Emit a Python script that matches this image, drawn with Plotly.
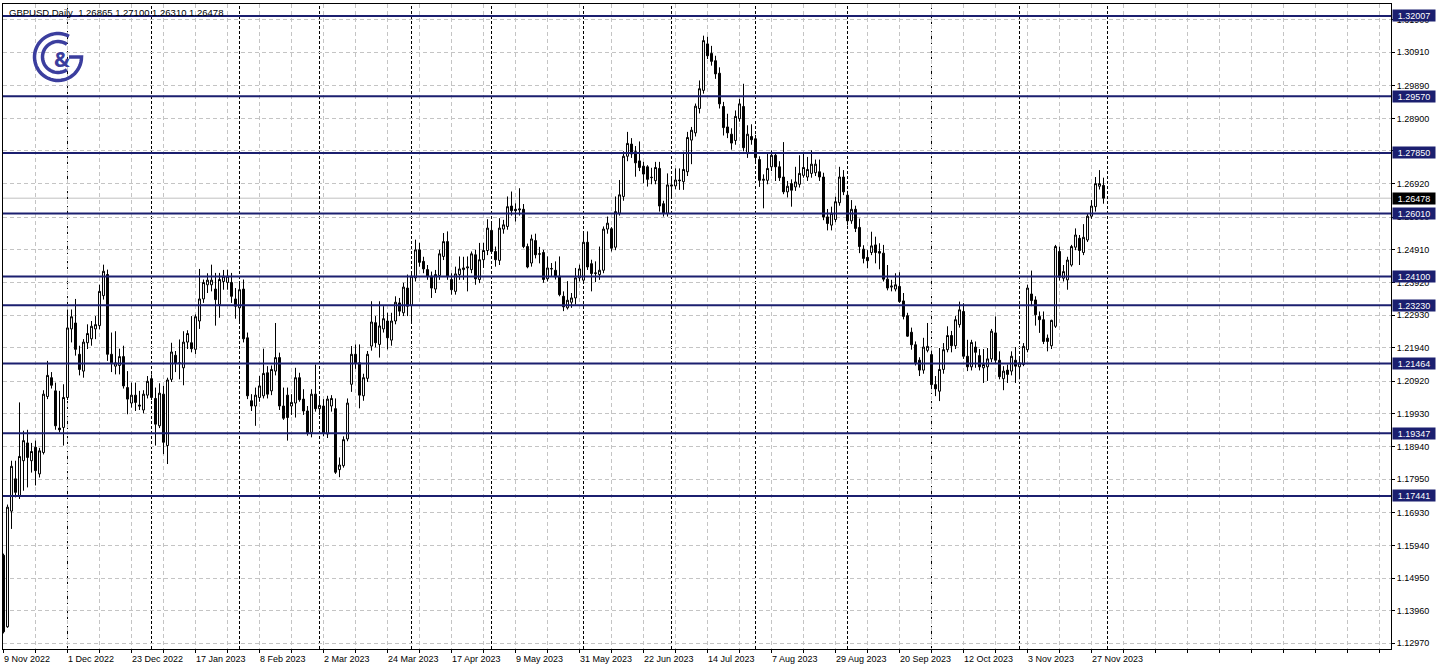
import numpy as np
import plotly.graph_objects as go

# ---------------- data ----------------
bar_open = [
    1.1564, 1.1347, 1.1698, 1.1796, 1.1743, 1.1851, 1.1905, 1.1851, 1.1892, 1.1811,
    1.1876, 1.2046, 1.2103, 1.2063, 1.1950, 1.1952, 1.2043, 1.2251, 1.2269, 1.2174,
    1.2123, 1.2209, 1.2221, 1.2251, 1.2261, 1.2352, 1.2416, 1.2174, 1.2138, 1.2140,
    1.2167, 1.2073, 1.2026, 1.2050, 1.2020, 1.2005, 1.2050, 1.2100, 1.2040, 1.1957,
    1.2053, 1.1897, 1.2098, 1.2171, 1.2146, 1.2133, 1.2211, 1.2209, 1.2189, 1.2275,
    1.2342, 1.2385, 1.2385, 1.2372, 1.2325, 1.2395, 1.2392, 1.2392, 1.2342, 1.2315,
    1.2372, 1.2224, 1.2033, 1.2017, 1.2043, 1.2048, 1.2118, 1.2063, 1.2123, 1.2164,
    1.2017, 1.2050, 1.2017, 1.2026, 1.2103, 1.2038, 1.2002, 1.1937, 1.2053, 1.2009,
    1.2017, 1.1932, 1.2017, 1.2009, 1.1824, 1.1836, 1.1917, 1.2083, 1.2174, 1.2148,
    1.2048, 1.2101, 1.2199, 1.2270, 1.2204, 1.2251, 1.2275, 1.2217, 1.2275, 1.2330,
    1.2300, 1.2375, 1.2322, 1.2406, 1.2491, 1.2456, 1.2431, 1.2411, 1.2372, 1.2413,
    1.2471, 1.2516, 1.2401, 1.2365, 1.2416, 1.2431, 1.2436, 1.2431, 1.2476, 1.2401,
    1.2461, 1.2489, 1.2550, 1.2486, 1.2459, 1.2554, 1.2562, 1.2624, 1.2614, 1.2612,
    1.2614, 1.2501, 1.2451, 1.2519, 1.2479, 1.2483, 1.2403, 1.2433, 1.2429, 1.2411,
    1.2350, 1.2315, 1.2332, 1.2345, 1.2406, 1.2399, 1.2514, 1.2449, 1.2419, 1.2416,
    1.2429, 1.2554, 1.2555, 1.2499, 1.2602, 1.2653, 1.2775, 1.2812, 1.2789, 1.2761,
    1.2745, 1.2743, 1.2710, 1.2701, 1.2738, 1.2631, 1.2602, 1.2688, 1.2685, 1.2703,
    1.2698, 1.2728, 1.2824, 1.2846, 1.2920, 1.2975, 1.3116, 1.3087, 1.3065, 1.3027,
    1.2926, 1.2864, 1.2842, 1.2823, 1.2889, 1.2926, 1.2783, 1.2835, 1.2828, 1.2765,
    1.2702, 1.2702, 1.2743, 1.2778, 1.2743, 1.2712, 1.2667, 1.2692, 1.2682, 1.2690,
    1.2717, 1.2712, 1.2723, 1.2725, 1.2728, 1.2712, 1.2591, 1.2566, 1.2583, 1.2634,
    1.2712, 1.2657, 1.2579, 1.2614, 1.2559, 1.2493, 1.2468, 1.2483, 1.2506, 1.2486,
    1.2481, 1.2402, 1.2378, 1.2372, 1.2380, 1.2336, 1.2291, 1.2241, 1.2203, 1.2156,
    1.2126, 1.2186, 1.2173, 1.2082, 1.2062, 1.2128, 1.2188, 1.2231, 1.2200, 1.2264,
    1.2304, 1.2168, 1.2136, 1.2196, 1.2170, 1.2133, 1.2136, 1.2160, 1.2239, 1.2156,
    1.2100, 1.2126, 1.2123, 1.2156, 1.2136, 1.2143, 1.2188, 1.2357, 1.2339, 1.2289,
    1.2279, 1.2223, 1.2200, 1.2259, 1.2486, 1.2405, 1.2400, 1.2445, 1.2499, 1.2526,
    1.2483, 1.2521, 1.2593, 1.2622, 1.2684, 1.26865,
]
bar_high = [
    1.1569, 1.1718, 1.1851, 1.1851, 1.2028, 1.1942, 1.1945, 1.1905, 1.1912, 1.1890,
    1.2065, 1.2154, 1.2120, 1.2088, 1.2063, 1.2083, 1.2310, 1.2310, 1.2342, 1.2200,
    1.2220, 1.2265, 1.2275, 1.2290, 1.2385, 1.2446, 1.2431, 1.2240, 1.2244, 1.2191,
    1.2200, 1.2123, 1.2088, 1.2088, 1.2063, 1.2065, 1.2108, 1.2113, 1.2073, 1.2086,
    1.2078, 1.2103, 1.2209, 1.2184, 1.2219, 1.2244, 1.2247, 1.2290, 1.2295, 1.2433,
    1.2401, 1.2420, 1.2446, 1.2421, 1.2421, 1.2430, 1.2431, 1.2421, 1.2375, 1.2395,
    1.2401, 1.2240, 1.2053, 1.2073, 1.2108, 1.2191, 1.2138, 1.2140, 1.2269, 1.2179,
    1.2073, 1.2073, 1.2053, 1.2133, 1.2118, 1.2068, 1.2017, 1.2068, 1.2143, 1.2040,
    1.2038, 1.2048, 1.2050, 1.2040, 1.1861, 1.1925, 1.2040, 1.2199, 1.2204, 1.2204,
    1.2115, 1.2184, 1.2335, 1.2290, 1.2335, 1.2320, 1.2300, 1.2300, 1.2350, 1.2345,
    1.2391, 1.2416, 1.2421, 1.2522, 1.2512, 1.2470, 1.2445, 1.2425, 1.2430, 1.2491,
    1.2542, 1.2547, 1.2420, 1.2440, 1.2471, 1.2470, 1.2471, 1.2486, 1.2491, 1.2512,
    1.2512, 1.2584, 1.2572, 1.2501, 1.2587, 1.2582, 1.2653, 1.2668, 1.2632, 1.2678,
    1.2630, 1.2510, 1.2537, 1.2540, 1.2500, 1.2491, 1.2471, 1.2451, 1.2456, 1.2471,
    1.2365, 1.2396, 1.2360, 1.2436, 1.2446, 1.2547, 1.2547, 1.2461, 1.2456, 1.2501,
    1.2562, 1.2592, 1.2560, 1.2653, 1.2703, 1.2790, 1.2849, 1.2830, 1.2806, 1.2820,
    1.2758, 1.2748, 1.2740, 1.2758, 1.2758, 1.2640, 1.2723, 1.2713, 1.2738, 1.2738,
    1.2789, 1.2849, 1.2864, 1.2935, 1.3005, 1.3141, 1.3138, 1.3110, 1.3080, 1.3045,
    1.2940, 1.2904, 1.2860, 1.2914, 1.2949, 1.2995, 1.2869, 1.2872, 1.2840, 1.2775,
    1.2720, 1.2783, 1.2793, 1.2783, 1.2760, 1.2818, 1.2700, 1.2705, 1.2743, 1.2778,
    1.2788, 1.2773, 1.2793, 1.2765, 1.2765, 1.2725, 1.2615, 1.2622, 1.2652, 1.2743,
    1.2733, 1.2670, 1.2642, 1.2625, 1.2586, 1.2505, 1.2490, 1.2546, 1.2531, 1.2511,
    1.2506, 1.2445, 1.2400, 1.2420, 1.2423, 1.2360, 1.2300, 1.2255, 1.2213, 1.2165,
    1.2224, 1.2269, 1.2185, 1.2108, 1.2193, 1.2208, 1.2259, 1.2245, 1.2290, 1.2334,
    1.2329, 1.2218, 1.2218, 1.2213, 1.2190, 1.2190, 1.2193, 1.2251, 1.2289, 1.2183,
    1.2138, 1.2143, 1.2183, 1.2196, 1.2168, 1.2208, 1.2385, 1.2428, 1.2350, 1.2304,
    1.2304, 1.2234, 1.2279, 1.2506, 1.2501, 1.2445, 1.2470, 1.2506, 1.2556, 1.2536,
    1.2569, 1.2601, 1.2642, 1.2712, 1.2733, 1.27100,
]
bar_low = [
    1.1327, 1.1344, 1.1644, 1.1740, 1.1735, 1.1760, 1.1770, 1.1815, 1.1776, 1.1800,
    1.1870, 1.2038, 1.2070, 1.1945, 1.1937, 1.1897, 1.2035, 1.2210, 1.2170, 1.2110,
    1.2103, 1.2190, 1.2200, 1.2220, 1.2250, 1.2340, 1.2154, 1.2120, 1.2113, 1.2113,
    1.2070, 1.1992, 1.2012, 1.2002, 1.2005, 1.1995, 1.2040, 1.2035, 1.1897, 1.1950,
    1.1871, 1.1841, 1.2090, 1.2120, 1.2098, 1.2080, 1.2190, 1.2180, 1.2175, 1.2251,
    1.2330, 1.2360, 1.2365, 1.2261, 1.2285, 1.2370, 1.2370, 1.2330, 1.2282, 1.2269,
    1.2210, 1.2038, 1.2002, 1.1957, 1.2030, 1.2040, 1.2040, 1.2050, 1.2110, 1.2005,
    1.1975, 1.1912, 1.1990, 1.1982, 1.2030, 1.1990, 1.1927, 1.1922, 1.2000, 1.1990,
    1.1925, 1.1920, 1.2000, 1.1811, 1.1801, 1.1830, 1.1910, 1.2060, 1.2130, 1.2010,
    1.2033, 1.2090, 1.2185, 1.2195, 1.2164, 1.2240, 1.2189, 1.2200, 1.2265, 1.2290,
    1.2290, 1.2290, 1.2270, 1.2395, 1.2440, 1.2420, 1.2400, 1.2345, 1.2360, 1.2400,
    1.2460, 1.2400, 1.2355, 1.2355, 1.2400, 1.2400, 1.2365, 1.2420, 1.2385, 1.2390,
    1.2436, 1.2475, 1.2480, 1.2440, 1.2445, 1.2540, 1.2552, 1.2595, 1.2577, 1.2595,
    1.2496, 1.2435, 1.2440, 1.2465, 1.2450, 1.2391, 1.2395, 1.2410, 1.2401, 1.2350,
    1.2305, 1.2310, 1.2315, 1.2325, 1.2395, 1.2390, 1.2430, 1.2365, 1.2393, 1.2400,
    1.2420, 1.2540, 1.2486, 1.2490, 1.2595, 1.2640, 1.2760, 1.2770, 1.2713, 1.2730,
    1.2693, 1.2683, 1.2690, 1.2690, 1.2607, 1.2592, 1.2592, 1.2648, 1.2675, 1.2673,
    1.2673, 1.2715, 1.2751, 1.2835, 1.2905, 1.2965, 1.3070, 1.3050, 1.3010, 1.2920,
    1.2838, 1.2830, 1.2795, 1.2810, 1.2880, 1.2790, 1.2770, 1.2810, 1.2760, 1.2682,
    1.2617, 1.2690, 1.2730, 1.2700, 1.2700, 1.2660, 1.2650, 1.2622, 1.2670, 1.2680,
    1.2710, 1.2700, 1.2710, 1.2715, 1.2700, 1.2581, 1.2550, 1.2550, 1.2575, 1.2625,
    1.2657, 1.2565, 1.2570, 1.2545, 1.2481, 1.2450, 1.2435, 1.2475, 1.2450, 1.2432,
    1.2395, 1.2368, 1.2365, 1.2365, 1.2330, 1.2280, 1.2227, 1.2188, 1.2140, 1.2108,
    1.2115, 1.2180, 1.2072, 1.2047, 1.2032, 1.2115, 1.2180, 1.2180, 1.2190, 1.2255,
    1.2160, 1.2123, 1.2125, 1.2133, 1.2125, 1.2087, 1.2093, 1.2150, 1.2145, 1.2098,
    1.2065, 1.2087, 1.2110, 1.2087, 1.2098, 1.2138, 1.2180, 1.2320, 1.2261, 1.2239,
    1.2205, 1.2183, 1.2190, 1.2254, 1.2398, 1.2395, 1.2370, 1.2440, 1.2490, 1.2445,
    1.2475, 1.2515, 1.2585, 1.2607, 1.2674, 1.26310,
]
bar_close = [
    1.1332, 1.1710, 1.1834, 1.1755, 1.1864, 1.1912, 1.1861, 1.1879, 1.1821, 1.1881,
    1.2053, 1.2110, 1.2080, 1.1957, 1.1945, 1.2043, 1.2254, 1.2288, 1.2189, 1.2128,
    1.2211, 1.2237, 1.2259, 1.2264, 1.2365, 1.2426, 1.2174, 1.2148, 1.2148, 1.2167,
    1.2078, 1.2038, 1.2050, 1.2028, 1.2017, 1.2053, 1.2092, 1.2043, 1.1962, 1.2056,
    1.1907, 1.2096, 1.2181, 1.2146, 1.2148, 1.2211, 1.2237, 1.2191, 1.2288, 1.2342,
    1.2392, 1.2399, 1.2399, 1.2340, 1.2401, 1.2411, 1.2411, 1.2350, 1.2320, 1.2370,
    1.2221, 1.2048, 1.2017, 1.2050, 1.2078, 1.2116, 1.2053, 1.2128, 1.2164, 1.2017,
    1.1980, 1.1982, 1.2028, 1.2103, 1.2036, 1.2002, 1.1935, 1.2053, 1.2009, 1.2019,
    1.1935, 1.2038, 1.2040, 1.1816, 1.1838, 1.1915, 1.2026, 1.2174, 1.2148, 1.2050,
    1.2103, 1.2174, 1.2272, 1.2209, 1.2260, 1.2282, 1.2224, 1.2275, 1.2332, 1.2305,
    1.2378, 1.2320, 1.2411, 1.2491, 1.2453, 1.2433, 1.2411, 1.2375, 1.2416, 1.2479,
    1.2516, 1.2411, 1.2370, 1.2418, 1.2433, 1.2436, 1.2439, 1.2479, 1.2403, 1.2461,
    1.2489, 1.2557, 1.2486, 1.2461, 1.2557, 1.2567, 1.2622, 1.2610, 1.2610, 1.2615,
    1.2501, 1.2439, 1.2524, 1.2476, 1.2478, 1.2401, 1.2436, 1.2434, 1.2409, 1.2355,
    1.2318, 1.2338, 1.2345, 1.2406, 1.2433, 1.2514, 1.2439, 1.2419, 1.2421, 1.2429,
    1.2554, 1.2572, 1.2496, 1.2607, 1.2658, 1.2775, 1.2814, 1.2782, 1.2755, 1.2741,
    1.2721, 1.2705, 1.2711, 1.2741, 1.2624, 1.2602, 1.2688, 1.2685, 1.2703, 1.2701,
    1.2735, 1.2832, 1.2854, 1.2927, 1.2980, 1.3126, 1.3080, 1.3063, 1.3025, 1.2934,
    1.2862, 1.2846, 1.2815, 1.2896, 1.2934, 1.2801, 1.2842, 1.2825, 1.2771, 1.2702,
    1.2705, 1.2738, 1.2778, 1.2743, 1.2710, 1.2667, 1.2684, 1.2672, 1.2697, 1.2723,
    1.2741, 1.2735, 1.2751, 1.2751, 1.2712, 1.2591, 1.2571, 1.2602, 1.2637, 1.2712,
    1.2667, 1.2579, 1.2614, 1.2556, 1.2501, 1.2465, 1.2458, 1.2503, 1.2483, 1.2481,
    1.2402, 1.2375, 1.2381, 1.2385, 1.2334, 1.2289, 1.2229, 1.2203, 1.2148, 1.2126,
    1.2196, 1.2198, 1.2082, 1.2069, 1.2128, 1.2188, 1.2231, 1.2200, 1.2279, 1.2309,
    1.2168, 1.2136, 1.2210, 1.2180, 1.2136, 1.2143, 1.2160, 1.2244, 1.2156, 1.2106,
    1.2123, 1.2113, 1.2168, 1.2138, 1.2148, 1.2198, 1.2375, 1.2337, 1.2294, 1.2279,
    1.2213, 1.2213, 1.2277, 1.2501, 1.2408, 1.2425, 1.2460, 1.2501, 1.2536, 1.2489,
    1.2529, 1.2593, 1.2624, 1.2692, 1.2692, 1.26478,
]

date_labels = [
    "9 Nov 2022", "1 Dec 2022", "23 Dec 2022", "17 Jan 2023", "8 Feb 2023",
    "2 Mar 2023", "24 Mar 2023", "17 Apr 2023", "9 May 2023", "31 May 2023",
    "22 Jun 2023", "14 Jul 2023", "7 Aug 2023", "29 Aug 2023", "20 Sep 2023",
    "12 Oct 2023", "3 Nov 2023", "27 Nov 2023",
]
date_label_bars = [0, 16, 32, 48, 64, 80, 96, 112, 128, 144, 160, 176, 192, 208, 224, 240, 256, 272]
month_start_bars = [16, 37, 59, 79, 102, 122, 145, 167, 188, 211, 232, 254, 276]

levels = [1.32007, 1.29570, 1.27850, 1.26010, 1.24100, 1.23230, 1.21464, 1.19347, 1.17441]
last_price = 1.26478
y_ticks = [1.12970, 1.13960, 1.14950, 1.15940, 1.16930, 1.17950, 1.18940, 1.19930,
           1.20920, 1.21940, 1.22930, 1.23920, 1.24910, 1.25900, 1.26920, 1.27910,
           1.28900, 1.29890, 1.30910, 1.31900]
title_text = "GBPUSD,Daily  1.26865 1.27100 1.26310 1.26478"

# ---------------- styling ----------------
NAVY = "#1b1f6f"
GRID = "#c4c4c4"
LOGO = "#3b3e9e"
FONT = "Liberation Sans"
W, H = 1438, 671
ML, MR, MT, MB = 3, 47, 4, 22

fig = go.Figure()
fig.add_trace(go.Candlestick(
    x=list(range(len(bar_open))),
    open=bar_open, high=bar_high, low=bar_low, close=bar_close,
    increasing=dict(line=dict(color="#000000", width=1), fillcolor="#ffffff"),
    decreasing=dict(line=dict(color="#000000", width=1), fillcolor="#000000"),
    whiskerwidth=0, hoverinfo="skip", showlegend=False,
))

shapes = []
# current price line
shapes.append(dict(type="line", xref="paper", x0=0, x1=1, yref="y", y0=last_price, y1=last_price,
                   line=dict(color="#c0c0c0", width=1), layer="below"))
# month separators
for b in month_start_bars:
    shapes.append(dict(type="line", xref="x", x0=b, x1=b, yref="paper", y0=0, y1=1,
                       line=dict(color="#000000", width=1, dash="3px,2px"), layer="below"))
# support / resistance levels
for lv in levels:
    shapes.append(dict(type="line", xref="paper", x0=0, x1=1, yref="y", y0=lv, y1=lv,
                       line=dict(color=NAVY, width=2), layer="above"))


# logo (decorative, pixel coordinates relative to plot top-left)
def to_px(sx, sy):
    return sx - ML, MT - sy


def arc(cx, cy, r, a0, a1, n=48):
    pts = []
    for a in np.linspace(np.radians(a0), np.radians(a1), n):
        pts.append(to_px(cx + r * np.cos(a), cy - r * np.sin(a)))
    return pts


def path_of(pts):
    return "M " + " L ".join(f"{x:.2f},{y:.2f}" for x, y in pts)


outer = arc(58, 57, 23.5, 62, 360)
outer_path = path_of(outer) + " L " + "{:.2f},{:.2f}".format(*to_px(69, 57))
inner = arc(58, 57, 15.5, 55, 305)
for p in (outer_path, path_of(inner)):
    shapes.append(dict(type="path", path=p, xref="paper", yref="paper",
                       xsizemode="pixel", ysizemode="pixel", xanchor=0, yanchor=1,
                       line=dict(color=LOGO, width=3.5), layer="above"))

annotations = []
annotations.append(dict(text=title_text, xref="paper", yref="paper", x=0, y=1,
                        xanchor="left", yanchor="top", xshift=4, yshift=-1, showarrow=False,
                        font=dict(family=FONT, size=9.5, color="#000000")))
annotations.append(dict(text="<b>&amp;</b>", xref="paper", yref="paper", x=0, y=1,
                        xanchor="center", yanchor="middle", xshift=62 - ML, yshift=-(59 - MT),
                        showarrow=False, font=dict(family="Noto Sans", size=21, color=LOGO)))
for lv in levels:
    annotations.append(dict(text=f"{lv:.5f}", xref="paper", x=1, xanchor="left", xshift=1,
                            yref="y", y=lv, yanchor="middle", showarrow=False,
                            bgcolor=NAVY, width=42, height=11, borderpad=0,
                            font=dict(family=FONT, size=9, color="#ffffff")))
annotations.append(dict(text=f"{last_price:.5f}", xref="paper", x=1, xanchor="left", xshift=1,
                        yref="y", y=last_price, yanchor="middle", showarrow=False,
                        bgcolor="#000000", width=42, height=11, borderpad=0,
                        font=dict(family=FONT, size=9, color="#ffffff")))
for b, lab in zip(date_label_bars, date_labels):
    annotations.append(dict(text=lab, xref="x", x=b, xanchor="left", xshift=-2,
                            yref="paper", y=0, yanchor="top", yshift=-3, showarrow=False,
                            font=dict(family=FONT, size=9, color="#000000")))

fig.update_layout(
    width=W, height=H,
    margin=dict(l=ML, r=MR, t=MT, b=MB, pad=0),
    paper_bgcolor="#ffffff", plot_bgcolor="#ffffff",
    showlegend=False, hovermode=False,
    shapes=shapes, annotations=annotations,
    font=dict(family=FONT, size=9, color="#000000"),
)
fig.update_xaxes(
    range=[-0.125, 346.875], rangeslider=dict(visible=False),
    tickmode="linear", tick0=0, dtick=8, showticklabels=False,
    ticks="outside", ticklen=3, tickcolor="#000000",
    showgrid=True, gridcolor=GRID, griddash="4px,3px", gridwidth=1,
    showline=True, linecolor="#000000", linewidth=1, mirror=True, zeroline=False,
    fixedrange=True,
)
fig.update_yaxes(
    side="right", range=[1.12796, 1.32371],
    tickmode="array", tickvals=y_ticks, ticktext=[f"{v:.5f}" for v in y_ticks],
    ticks="outside", ticklen=3, tickcolor="#000000",
    tickfont=dict(family=FONT, size=9, color="#000000"),
    showgrid=True, gridcolor=GRID, griddash="4px,3px", gridwidth=1,
    showline=True, linecolor="#000000", linewidth=1, mirror=True, zeroline=False,
    fixedrange=True,
)

fig.write_html("out.html", config={"displayModeBar": False},
               post_script="document.body.style.margin='0px';document.body.style.padding='0px';")
